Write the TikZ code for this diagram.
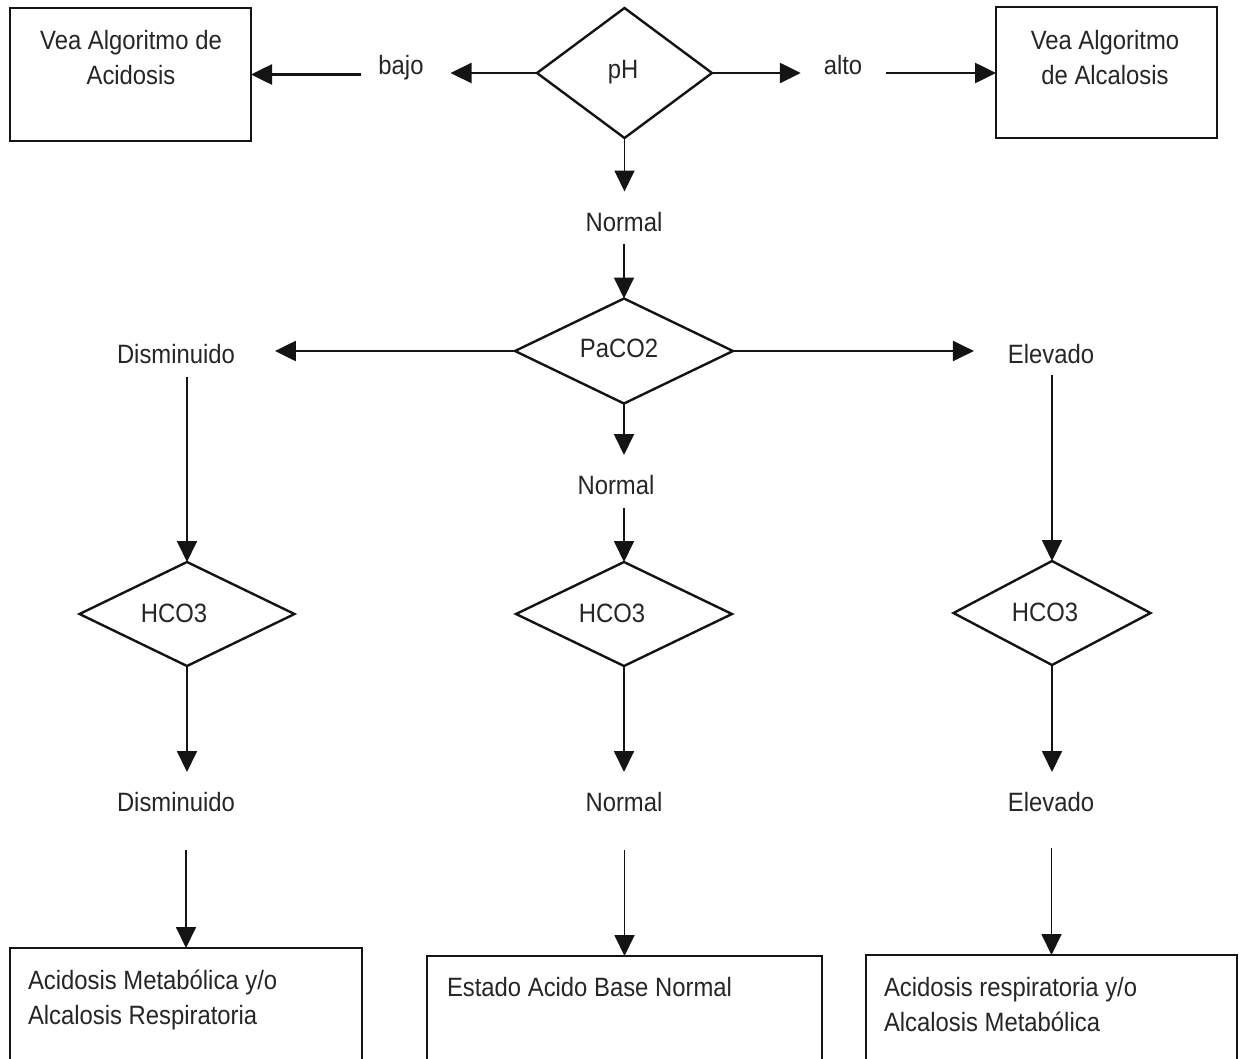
\documentclass[tikz,border=0pt]{standalone}
\usepackage{fontspec}
\setmainfont{Liberation Sans}[FakeStretch=0.9]
\usetikzlibrary{shapes.geometric,arrows.meta}

\newcommand\flowfont{\fontsize{26.5pt}{34pt}\selectfont}
\newcommand\boxfont{\fontsize{26.5pt}{35pt}\selectfont}
\newcommand\firstline{\rule{0pt}{20pt}}

\tikzset{
  outline/.style={draw=black!92, line width=2.4pt},
  decisionbox/.style={outline, diamond, inner sep=0pt, outer sep=0pt},
  resultbox/.style={outline, rectangle, inner sep=0pt, outer sep=0pt},
  word/.style={inner sep=0pt, outer sep=0pt, text height=19pt, text depth=0pt,
               font=\flowfont, text=black!85},
  para/.style={inner sep=0pt, outer sep=0pt, font=\boxfont, text=black!85},
  link/.style={draw=black!92, line width=1.8pt, -{Triangle[length=21pt,width=20pt]}},
  hlink/.style={link, line width=2.6pt},
}

\begin{document}
\begin{tikzpicture}[x=1pt, y=-1pt]
  \path[use as bounding box, clip] (0,0) rectangle (1240,1058);
  \fill[white] (0,0) rectangle (1240,1058);

  % --- first decision: pH ---
  \node[decisionbox, minimum width=175pt, minimum height=130pt] (ph) at (624.5,73) {};
  \node[word] (phtxt) at (623,69) {pH};

  \node[resultbox, minimum width=241pt, minimum height=133pt] (acid) at (130.5,74.5) {};
  \node[para, align=center, anchor=north] (acidtxt) at (131,29)
       {\firstline Vea Algoritmo de\\Acidosis};
  \node[resultbox, minimum width=221pt, minimum height=131pt] (alcal) at (1106.5,72.5) {};
  \node[para, align=center, anchor=north] (alcaltxt) at (1105,29)
       {\firstline Vea Algoritmo\\de Alcalosis};

  \node[word] (bajo) at (401,65) {bajo};
  \node[word] (alto) at (843,65) {alto};
  \node[word] (norm1) at (624,222) {Normal};

  % --- second decision: PaCO2 ---
  \node[decisionbox, minimum width=218pt, minimum height=105pt] (paco) at (624,351) {};
  \node[word] (pacotxt) at (619,348) {PaCO2};

  \node[word] (dis1) at (176,354) {Disminuido};
  \node[word] (elev1) at (1051,354) {Elevado};
  \node[word] (norm2) at (616,485) {Normal};

  % --- third decisions: HCO3 ---
  \node[decisionbox, minimum width=215pt, minimum height=104pt] (hl) at (187,614) {};
  \node[word] (hltxt) at (174,613) {HCO3};
  \node[decisionbox, minimum width=216pt, minimum height=104pt] (hm) at (624,614) {};
  \node[word] (hmtxt) at (612,613) {HCO3};
  \node[decisionbox, minimum width=197pt, minimum height=104pt] (hr) at (1052,613) {};
  \node[word] (hrtxt) at (1045,612) {HCO3};

  \node[word] (dis2) at (176,802) {Disminuido};
  \node[word] (norm3) at (624,802) {Normal};
  \node[word] (elev3) at (1051,802) {Elevado};

  % --- results ---
  \node[resultbox, minimum width=352pt, minimum height=132pt] (resl) at (186,1014) {};
  \node[para, align=left, anchor=north west] (resltxt) at (28,969.5)
       {\firstline Acidosis Metabólica y/o\\Alcalosis Respiratoria};
  \node[resultbox, minimum width=395pt, minimum height=124pt] (resm) at (624.5,1018) {};
  \node[para, align=left, anchor=north west] (resmtxt) at (447,976.5)
       {\firstline Estado Acido Base Normal};
  \node[resultbox, minimum width=371pt, minimum height=125pt] (resr) at (1051.5,1017.5) {};
  \node[para, align=left, anchor=north west] (resrtxt) at (884,976.5)
       {\firstline Acidosis respiratoria y/o\\Alcalosis Metabólica};

  % --- connectors: pH ---
  \draw[hlink, shorten >=27pt] (ph.west) -- (ph.west -| bajo.east);
  \draw[hlink, shorten <=17pt] (bajo.west |- acid.east) -- (acid.east);
  \draw[hlink, shorten >=23pt] (ph.east) -- (ph.east -| alto.west);
  \draw[hlink, shorten <=24pt] (alto.east |- ph.east) -- (ph.east -| alcal.west);
  \draw[link, shorten >=21pt] (ph.south) -- (ph.south |- norm1.north);
  \draw[link, shorten <=12pt] (paco.north |- norm1.south) -- (paco.north);

  % --- connectors: PaCO2 ---
  \draw[hlink, shorten >=40pt] (paco.west) -- (paco.west -| dis1.east);
  \draw[hlink, shorten >=34pt] (paco.east) -- (paco.east -| elev1.west);
  \draw[link, shorten >=20.5pt] (paco.south) -- (paco.south |- norm2.north);
  \draw[link, shorten <=13.5pt] (hm.north |- norm2.south) -- (hm.north);
  \draw[link, shorten <=13.5pt] (hl.north |- dis1.south) -- (hl.north);
  \draw[link, shorten <=11.5pt] (hr.north |- elev1.south) -- (hr.north);

  % --- connectors: HCO3 ---
  \draw[link, shorten >=20.5pt] (hl.south) -- (hl.south |- dis2.north);
  \draw[link, shorten >=20.5pt] (hm.south) -- (hm.south |- norm3.north);
  \draw[link, shorten >=20.5pt] (hr.south) -- (hr.south |- elev3.north);
  \draw[link, shorten <=38.5pt] (resl.north |- dis2.south) -- (resl.north);
  \draw[link, shorten <=38.5pt] (resm.north |- norm3.south) -- (resm.north);
  \draw[link, shorten <=36.5pt] (resr.north |- elev3.south) -- (resr.north);
\end{tikzpicture}
\end{document}
